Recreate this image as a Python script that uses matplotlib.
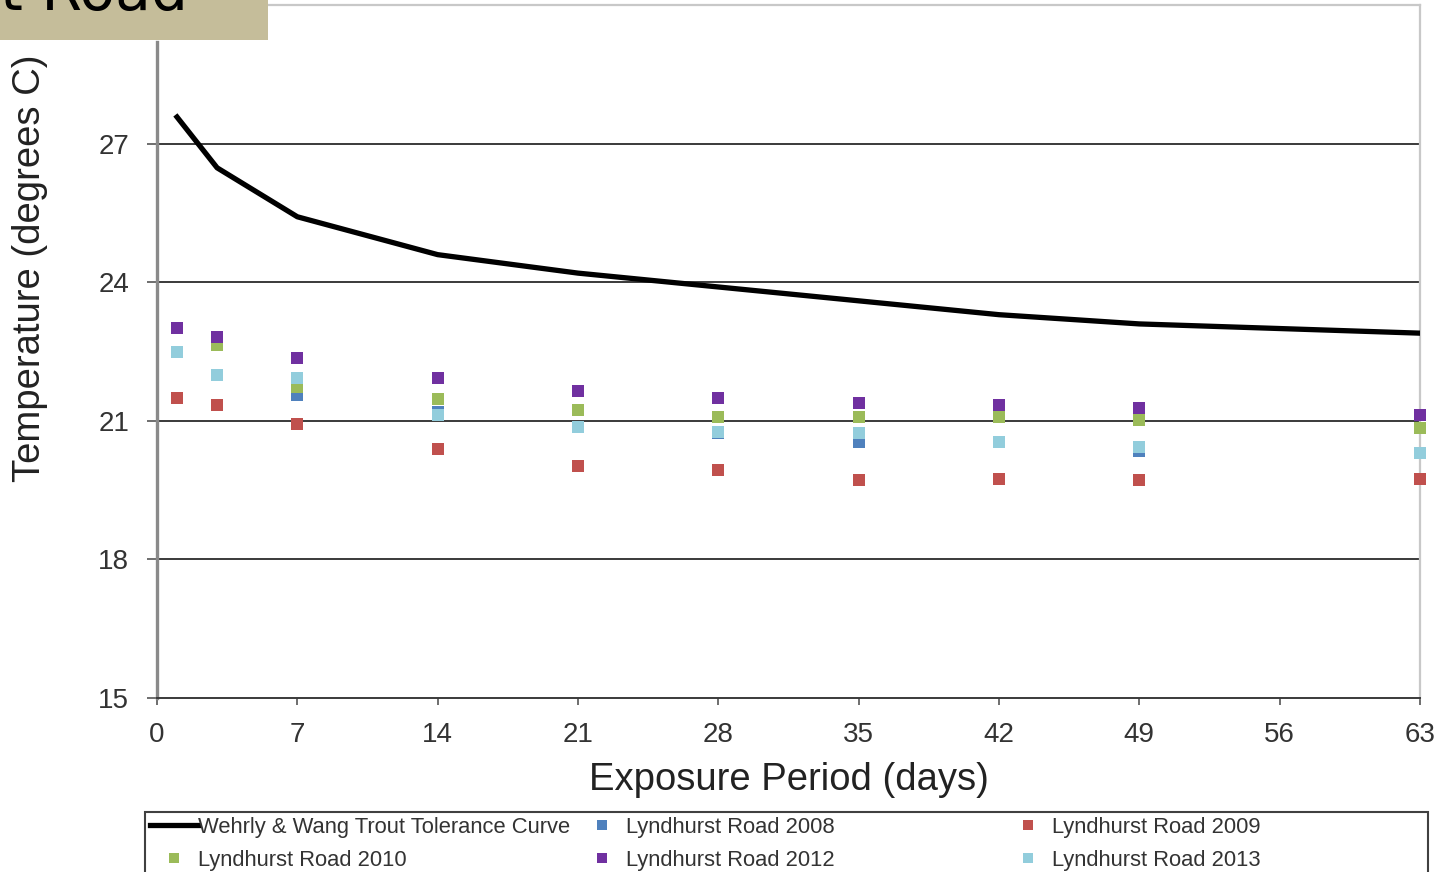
import matplotlib.pyplot as plt
import matplotlib.patches as patches
import numpy as np

plt.rcParams['font.family'] = ['Liberation Sans', 'DejaVu Sans']

# Tage der Messungen und Toleranzkurve
days = [1, 3, 7, 14, 21, 28, 35, 42, 49, 63]
curve = [27.58, 26.48, 25.42, 24.60, 24.20, 23.90, 23.60, 23.30, 23.10, 22.90]

# Messreihen Lyndhurst Road (Temperatur in Grad C)
road_2008 = [22.50, 22.00, 21.56, 21.20, 20.87, 20.74, 20.55, 20.55, 20.35, 20.31]
road_2009 = [21.50, 21.35, 20.94, 20.39, 20.03, 19.94, 19.72, 19.74, 19.72, 19.74]
road_2010 = [np.nan, 22.65, 21.74, 21.48, 21.24, 21.09, 21.09, 21.09, 21.02, 20.85]
road_2012 = [23.01, 22.82, 22.37, 21.93, 21.65, 21.50, 21.39, 21.35, 21.28, 21.13]
road_2013 = [22.50, 22.00, 21.93, 21.13, 20.87, 20.76, 20.74, 20.55, 20.44, 20.31]

x_ticks = [0, 7, 14, 21, 28, 35, 42, 49, 56, 63]
y_ticks = [15, 18, 21, 24, 27]

fig = plt.figure(figsize=(14.44, 8.72), dpi=100)
ax = fig.add_axes([0.1087, 0.1995, 0.8747, 0.7945])

ax.set_xlim(0, 63)
ax.set_ylim(15, 30)
ax.set_xticks(x_ticks)
ax.set_yticks(y_ticks)
for y in [18, 21, 24, 27]:
    ax.axhline(y=y, color='#3a3a3a', linewidth=1.4, zorder=1)

ms = 9
h_curve, = ax.plot(days, curve, color='black', linewidth=3.8, zorder=3)
h08, = ax.plot(days, road_2008, 's', color='#4F81BD', markersize=ms, markeredgewidth=0, zorder=4)
h09, = ax.plot(days, road_2009, 's', color='#C0504D', markersize=ms, markeredgewidth=0, zorder=5)
h10, = ax.plot(days, road_2010, 's', color='#9BBB59', markersize=ms, markeredgewidth=0, zorder=6)
h12, = ax.plot(days, road_2012, 's', color='#7030A0', markersize=ms, markeredgewidth=0, zorder=7)
h13, = ax.plot(days, road_2013, 's', color='#92CDDC', markersize=ms, markeredgewidth=0, zorder=8)
for h in [h08, h09, h10, h12, h13]:
    h.set_clip_on(False)

# Rahmen (linke Achse endet unter dem Titelkasten)
ax.spines['left'].set_color('#8a8a8a')
ax.spines['left'].set_linewidth(2.4)
ax.spines['left'].set_bounds(15, 29.2)
ax.spines['bottom'].set_color('#3a3a3a')
ax.spines['bottom'].set_linewidth(1.4)
ax.spines['top'].set_color('#c8c8c8')
ax.spines['top'].set_linewidth(1.6)
ax.spines['right'].set_color('#c8c8c8')
ax.spines['right'].set_linewidth(1.6)

ax.tick_params(axis='y', length=7, width=1.2, color='#555555', pad=13, labelsize=20, labelcolor='#333333')
ax.tick_params(axis='x', length=5, width=1.2, color='#555555', pad=12, labelsize=20, labelcolor='#333333')

ax.set_xlabel('Exposure Period (days)', fontsize=27.5, color='#222222', labelpad=10)
ax.set_ylabel('Temperature (degrees C)', fontsize=27.5, color='#222222')
ax.yaxis.set_label_coords(-0.0863, 0.62)

# Legende: drei Spalten mit Rahmen
fig.add_artist(patches.Rectangle((0.1004, -0.01), 0.8885, 0.0788, transform=fig.transFigure,
                                 fill=False, edgecolor='#404040', linewidth=1.5))
cols = [
    ([h_curve, h10], ['Wehrly & Wang Trout Tolerance Curve', 'Lyndhurst Road 2010'], 0.1039),
    ([h08, h12], ['Lyndhurst Road 2008', 'Lyndhurst Road 2012'], 0.4003),
    ([h09, h13], ['Lyndhurst Road 2009', 'Lyndhurst Road 2013'], 0.6953),
]
for handles, labels, x in cols:
    leg = fig.legend(handles, labels, loc='upper left', bbox_to_anchor=(x, 0.0635),
                     frameon=False, fontsize=15.8, handlelength=2.2, handletextpad=0.0,
                     borderpad=0, borderaxespad=0, labelspacing=0.55, markerscale=0.75)
    for t in leg.get_texts():
        t.set_color('#333333')

# Titelrest oben links (über der Achse)
fig.add_artist(patches.Rectangle((0, 1 - 40 / 872), 268 / 1444, 40 / 872,
                                 transform=fig.transFigure, facecolor='#C5BD9A',
                                 edgecolor='none', zorder=10))
fig.text(0.0, 1 - 10 / 872, 't Road', fontsize=42, family=['DejaVu Sans'],
         va='baseline', ha='left', color='black', zorder=11)

fig.savefig('out.png', dpi=100)
